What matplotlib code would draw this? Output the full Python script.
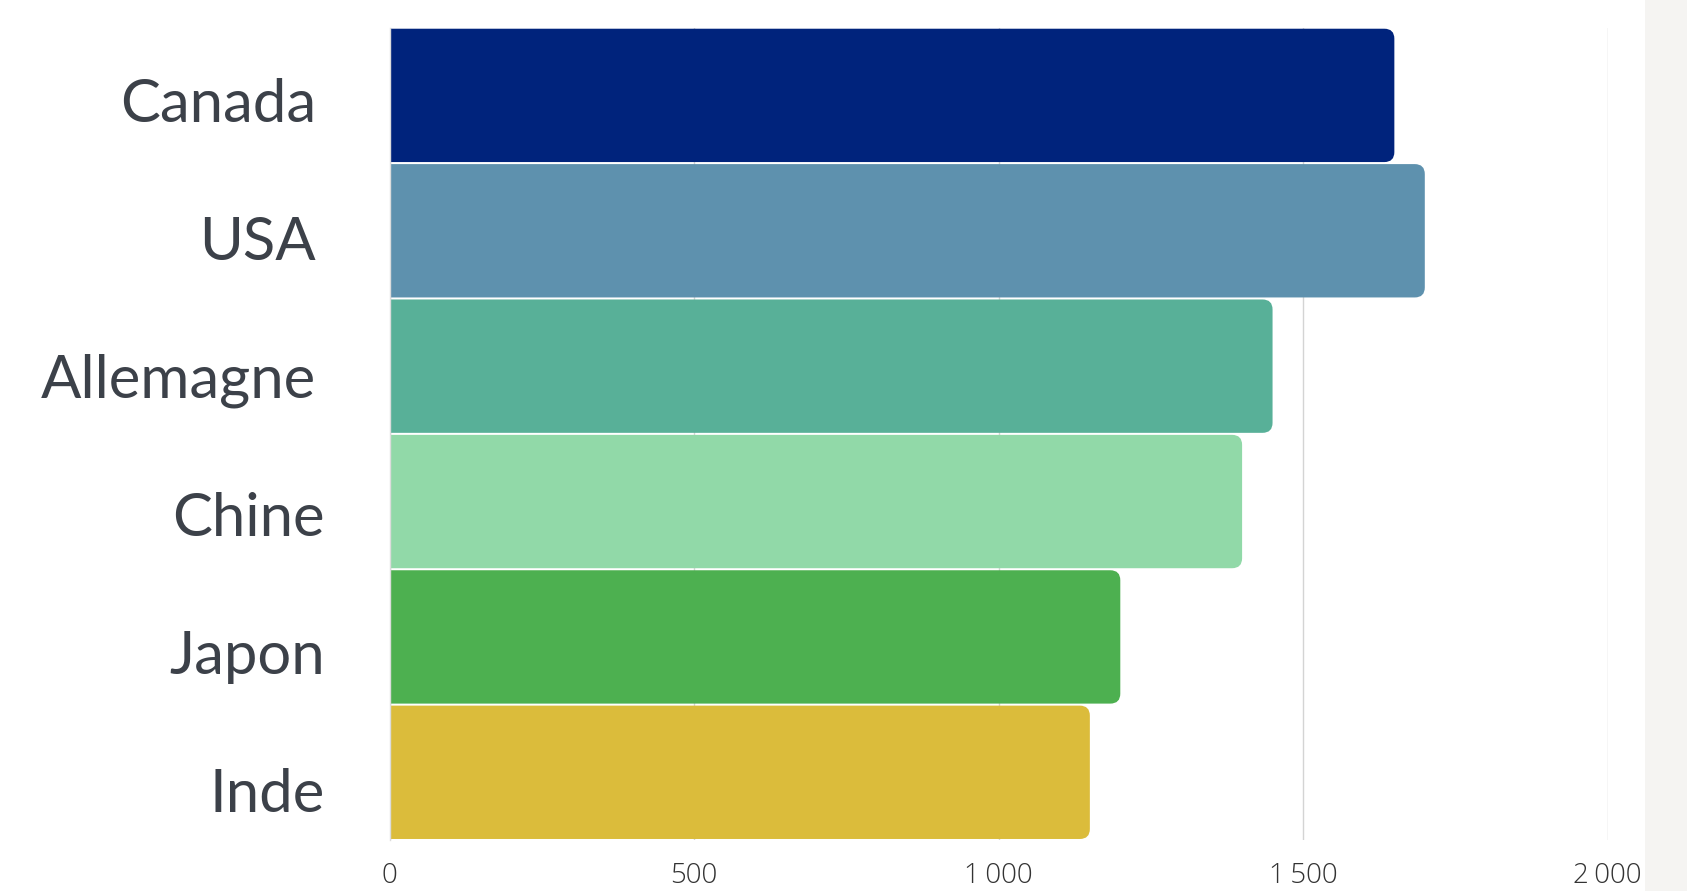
import numpy as np
import matplotlib.pyplot as plt
from matplotlib.patches import FancyBboxPatch, Rectangle

# data
countries = ["Canada", "USA", "Allemagne", "Chine", "Japon", "Inde"]
values = [1650, 1700, 1450, 1400, 1200, 1150]
colors = ["#00237c", "#5e91ae", "#58b098", "#91d9a8", "#4db050", "#dbbc3b"]
xticks = [0, 500, 1000, 1500, 2000]
xtick_labels = ["0", "500", "1\u2009000", "1\u2009500", "2\u2009000"]

W, H = 1687, 891
fig = plt.figure(figsize=(W / 100, H / 100), dpi=100)
fig.patch.set_facecolor("white")

# grey strip on the right edge
fig.patches.append(Rectangle((1645 / W, 0), 1 - 1645 / W, 1, transform=fig.transFigure,
                             facecolor="#f5f4f2", edgecolor="none", zorder=0))

ax = fig.add_axes([389.5 / W, 1 - 840 / H, (1607.5 - 389.5) / W, (840 - 27.7) / H])
ax.set_facecolor("white")

y = np.arange(len(countries))
bars = ax.barh(y, values, height=0.985, color=colors)
ax.set_xlim(0, 2000)
ax.set_ylim(len(countries) - 0.5, -0.5)

# rounded right ends: replace each bar rectangle with a rounded box
px_x = (1607.5 - 389.5) / 2000.0   # pixels per x unit
px_y = (840 - 27.7) / len(countries)  # pixels per y unit
r = 10.0
for b in bars:
    x0, y0, w, h = b.get_x(), b.get_y(), b.get_width(), b.get_height()
    b.set_visible(False)
    pad = 40
    box = FancyBboxPatch((x0 - pad, y0), w + pad, h,
                         boxstyle="round,pad=0,rounding_size=%f" % (r / px_x),
                         mutation_aspect=(px_x / px_y),
                         facecolor=b.get_facecolor(), edgecolor="none", zorder=2)
    ax.add_patch(box)

# grid
ax.set_xticks(xticks)
ax.set_xticklabels(xtick_labels, fontfamily="Open Sans", fontweight="light",
                   fontsize=20, color="#333333")
ax.tick_params(axis="x", length=0, pad=16)
ax.grid(axis="x", color="#d4d4d4", linewidth=1, zorder=0)
ax.set_axisbelow(True)
ax.set_yticks([])
for s in ["top", "right", "bottom"]:
    ax.spines[s].set_visible(False)
ax.spines["left"].set_color("#dcdcdc")
ax.spines["left"].set_linewidth(1)

# country labels
label_right = [316, 316, 316, 325, 325, 325]
for i, name in enumerate(countries):
    base = 121.7 + 138.1 * i
    fig.text(label_right[i] / W, 1 - base / H, name, ha="right", va="baseline",
             fontfamily="Lato", fontsize=43, color="#3c4149")

fig.savefig("out.png", dpi=100)
